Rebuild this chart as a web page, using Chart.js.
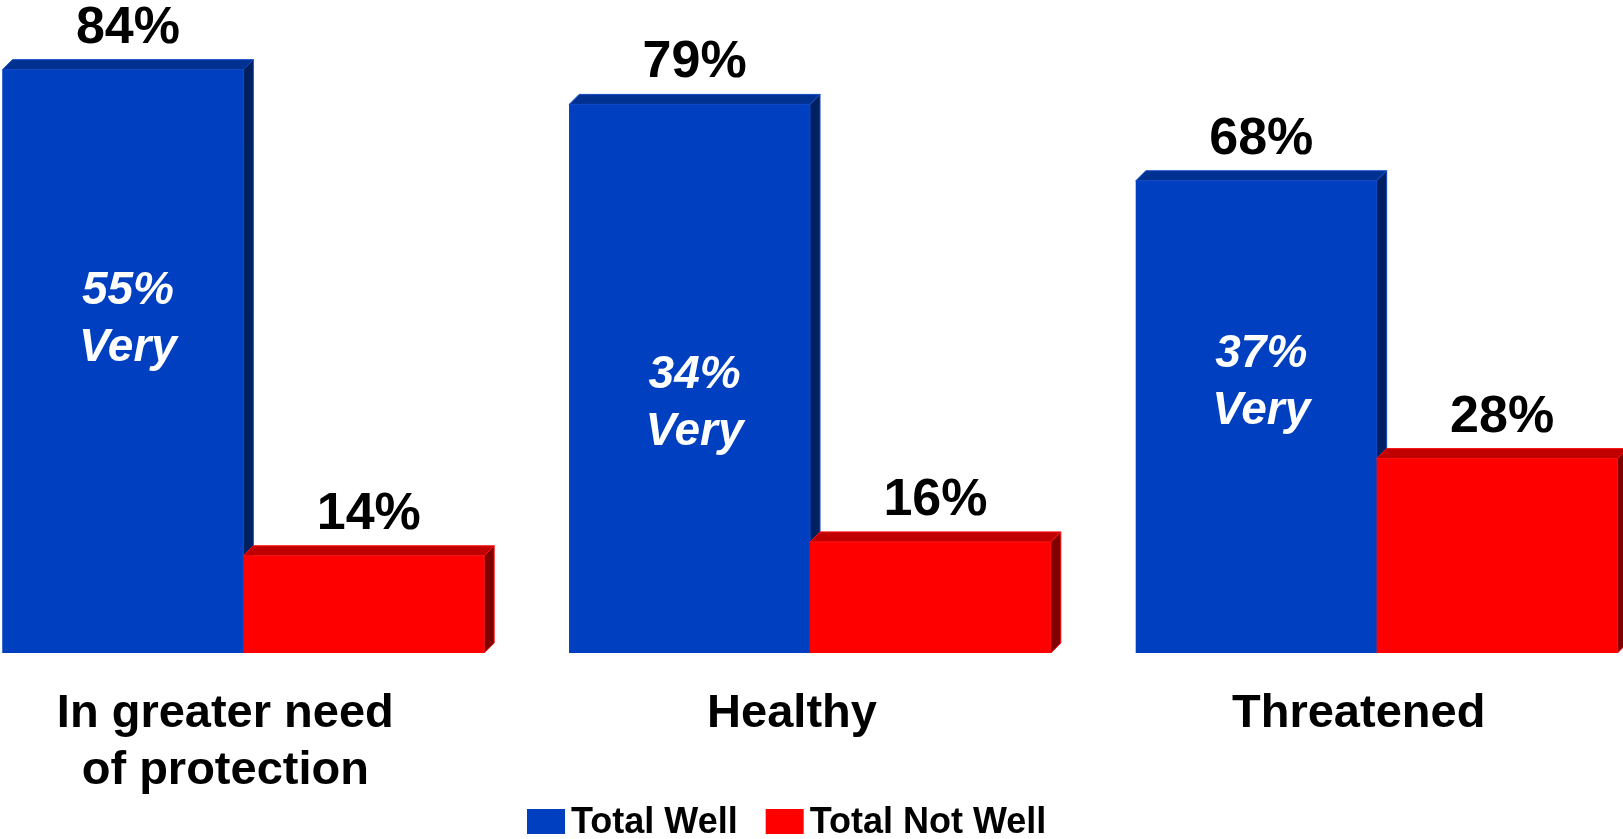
<!DOCTYPE html>
<html>
<head>
<meta charset="utf-8">
<script src="https://cdn.jsdelivr.net/npm/chart.js@4.4.1/dist/chart.umd.min.js"></script>
<style>
  html, body { margin: 0; padding: 0; background: #fff; overflow: hidden; }
  body { width: 1623px; height: 839px; position: relative; }
  /* canvas is a bit wider than the page so the outer groups sit at the edges */
  #wrap { position: absolute; left: -40px; top: 0; width: 1700px; height: 839px; }
</style>
</head>
<body>
<div id="wrap"><canvas id="bar-chart"></canvas></div>
<script>
// Data
const categories = [['In greater need', 'of protection'], 'Healthy', 'Threatened'];
const totalWell = [84, 79, 68];
const totalNotWell = [14, 16, 28];
const veryWell = [55, 34, 37];
// y value where the "xx% Very" note is centred inside the blue bar
const veryLabelAt = [48, 36, 39];

const FONT = '"Liberation Sans", Arial, sans-serif';
const DEPTH = 10;

function drawBox(ctx, bar, ds) {
  const left = bar.x - bar.width / 2;
  const right = bar.x + bar.width / 2;
  const top = bar.y;
  const bottom = bar.base;

  // front
  ctx.fillStyle = ds.backgroundColor;
  ctx.fillRect(left, top, right - left, bottom - top);

  ctx.strokeStyle = ds.edgeColor;
  ctx.lineWidth = 1;

  // top face
  ctx.beginPath();
  ctx.moveTo(left, top);
  ctx.lineTo(left + DEPTH, top - DEPTH);
  ctx.lineTo(right + DEPTH, top - DEPTH);
  ctx.lineTo(right, top);
  ctx.closePath();
  ctx.fillStyle = ds.topColor;
  ctx.fill();
  ctx.stroke();

  // side face
  ctx.beginPath();
  ctx.moveTo(right, top);
  ctx.lineTo(right + DEPTH, top - DEPTH);
  ctx.lineTo(right + DEPTH, bottom - DEPTH);
  ctx.lineTo(right, bottom);
  ctx.closePath();
  ctx.fillStyle = ds.sideColor;
  ctx.fill();
  ctx.stroke();
}

// Redraw the bars as boxes, blue first so the red box sits over the blue side
const bar3d = {
  id: 'bar3d',
  afterDatasetsDraw(chart) {
    const ctx = chart.ctx;
    ctx.save();
    chart.data.datasets.forEach((ds, i) => {
      chart.getDatasetMeta(i).data.forEach(bar => drawBox(ctx, bar, ds));
    });
    ctx.restore();
  }
};

// Value labels above the bars and the "Very" notes
const barLabels = {
  id: 'barLabels',
  afterDatasetsDraw(chart) {
    const ctx = chart.ctx;
    ctx.save();
    ctx.textAlign = 'center';
    ctx.textBaseline = 'alphabetic';
    ctx.fillStyle = '#000';
    ctx.font = 'bold 52px ' + FONT;
    chart.data.datasets.forEach((ds, i) => {
      const meta = chart.getDatasetMeta(i);
      meta.data.forEach((bar, j) => {
        ctx.fillText(ds.data[j] + '%', bar.x + DEPTH / 2, bar.y - DEPTH - 17);
      });
    });

    // inner notes on the blue bars
    const yScale = chart.scales.y;
    const blue = chart.getDatasetMeta(0);
    ctx.fillStyle = '#fff';
    ctx.textBaseline = 'middle';
    ctx.font = 'italic bold 46px ' + FONT;
    blue.data.forEach((bar, j) => {
      const cy = yScale.getPixelForValue(veryLabelAt[j]);
      ctx.fillText(veryWell[j] + '%', bar.x + 5, cy - 28);
      ctx.fillText('Very', bar.x + 5, cy + 29);
    });
    ctx.restore();
  }
};

// Legend at the bottom, drawn by hand to get the tight spacing
const bottomLegend = {
  id: 'bottomLegend',
  afterDraw(chart) {
    const ctx = chart.ctx;
    ctx.save();
    ctx.font = 'bold 36px ' + FONT;
    ctx.textBaseline = 'middle';
    ctx.textAlign = 'left';
    let x = 567;
    const y = 822;
    chart.data.datasets.forEach(ds => {
      ctx.fillStyle = ds.backgroundColor;
      ctx.fillRect(x, y - 13, 38, 25);
      ctx.fillStyle = '#000';
      ctx.fillText(ds.label, x + 44, y + 1);
      x += 44 + ctx.measureText(ds.label).width + 28;
    });
    ctx.restore();
  }
};

const ctx = document.getElementById('bar-chart');

new Chart(ctx, {
  type: 'bar',
  data: {
    labels: categories,
    datasets: [
      {
        label: 'Total Well',
        data: totalWell,
        backgroundColor: '#0040C0',
        topColor: '#003090',
        sideColor: '#002060',
        edgeColor: '#1048C8'
      },
      {
        label: 'Total Not Well',
        data: totalNotWell,
        backgroundColor: '#FF0000',
        topColor: '#C00000',
        sideColor: '#800000',
        edgeColor: '#FF1010'
      }
    ]
  },
  options: {
    responsive: true,
    maintainAspectRatio: false,
    animation: false,
    events: [],
    layout: {
      padding: { top: 28, bottom: 41, left: 0, right: 0 }
    },
    datasets: {
      bar: {
        categoryPercentage: 0.85,
        barPercentage: 1.0,
        borderWidth: 0
      }
    },
    scales: {
      x: {
        grid: { display: false, drawTicks: false },
        border: { display: false },
        ticks: {
          color: '#000',
          padding: 33,
          labelOffset: -18,
          maxRotation: 0,
          autoSkip: false,
          font: { family: FONT, size: 47, weight: 'bold', lineHeight: 1.2 }
        },
        afterFit: function(scale) {
          scale.height = 145;
        }
      },
      y: {
        display: false,
        min: 0,
        max: 90
      }
    },
    plugins: {
      legend: { display: false },
      tooltip: { enabled: false }
    }
  },
  plugins: [bar3d, barLabels, bottomLegend]
});
</script>
</body>
</html>
